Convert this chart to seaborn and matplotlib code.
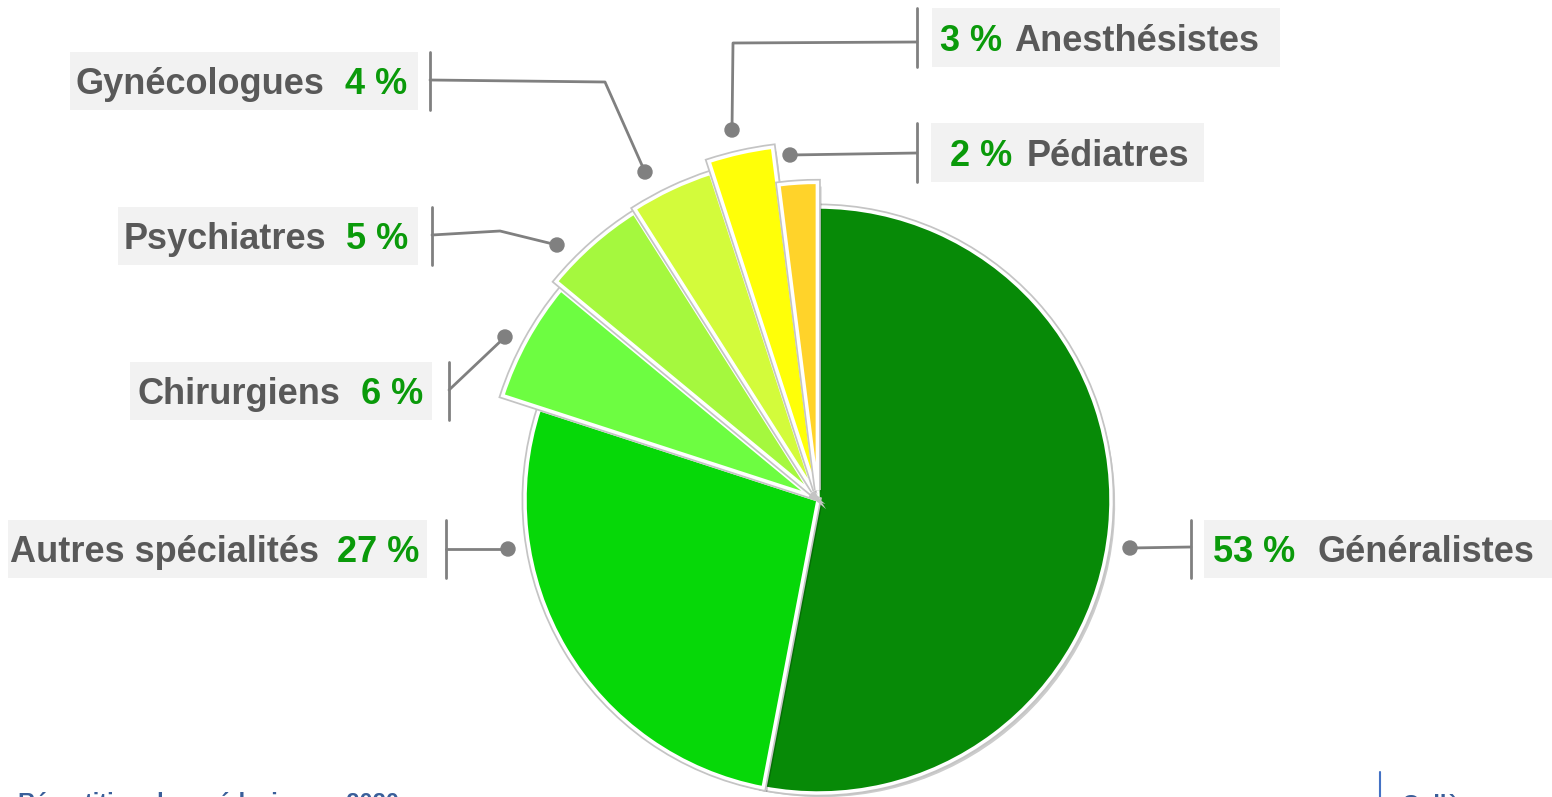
import matplotlib
matplotlib.use("Agg")
import matplotlib.pyplot as plt
import matplotlib.patheffects as pe
from matplotlib.patches import Rectangle, Circle
import seaborn as sns

# Données : répartition des médecins par spécialité (%)
categories = ["Généralistes", "Autres spécialités", "Chirurgiens", "Psychiatres",
              "Gynécologues", "Anesthésistes", "Pédiatres"]
pourcentages = [53, 27, 6, 5, 4, 3, 2]
etiquettes_pct = ["53 %", "27 %", "6 %", "5 %", "4 %", "3 %", "2 %"]
couleurs = ["#078A07", "#06D808", "#6DFD41", "#A5F83E", "#D3FB3B", "#FFFF08", "#FFD32A"]

# Style
sns.set_theme(style="white")
plt.rcParams['font.family'] = ['Liberation Sans Narrow', 'Liberation Sans', 'DejaVu Sans']

W, H = 1552, 797
fig = plt.figure(figsize=(W / 100, H / 100), dpi=100)
ax = fig.add_axes([0, 0, 1, 1])

GRIS_TXT = "#595959"
VERT_TXT = "#0A9A0A"
GRIS_LIGNE = "#808080"
FOND = "#F2F2F2"

# Camembert (coordonnées en pixels, y vers le haut)
centre = (818, H - 500)
R = 293
explode = [0, 0, 10, 10, 10, 10, 10]
rayons = [1, 1, 1.10, 1.13, 1.14, 1.18, 1.05]

wedges, _ = ax.pie(pourcentages, colors=couleurs, startangle=90, counterclock=False,
                   radius=R, center=centre, explode=explode,
                   wedgeprops=dict(edgecolor="white", linewidth=2.5))
for w, k in zip(wedges, rayons):
    w.set_radius(R * k)
    w.set_path_effects([pe.SimplePatchShadow(offset=(3, -3), shadow_rgbFace="black", alpha=0.2),
                        pe.Stroke(linewidth=5, foreground="#c4c4c4"), pe.Normal()])

ax.set_xlim(0, W)
ax.set_ylim(0, H)
ax.set_aspect("equal")
ax.axis("off")

# Mise en page des étiquettes (coordonnées image : y vers le bas)
# boîte (x0, y0, x1, y1), côté, x d'ancrage du texte, écart, barre x, tracé du connecteur
mise_en_page = {
    "Généralistes": ((1204, 520, 1552, 578), "d", 1213, 22, 1191,
                     [(1130, 548), (1191, 547)]),
    "Autres spécialités": ((8, 520, 427, 578), "g", 419, 18, 446,
                           [(508, 549), (446, 549)]),
    "Chirurgiens": ((130, 362, 432, 420), "g", 423, 20, 449,
                    [(505, 337), (449, 390)]),
    "Psychiatres": ((118, 207, 418, 265), "g", 408, 20, 432,
                    [(557, 245), (500, 231), (432, 235)]),
    "Gynécologues": ((70, 52, 418, 110), "g", 407, 20, 430,
                     [(645, 172), (605, 82), (430, 80)]),
    "Anesthésistes": ((932, 8, 1280, 67), "d", 940, 12, 917,
                      [(732, 130), (733, 43), (917, 42)]),
    "Pédiatres": ((931, 123, 1204, 182), "d", 950, 14, 917,
                  [(790, 155), (917, 153)]),
}

fig.canvas.draw()
renderer = fig.canvas.get_renderer()
taille = 26

for nom, pct in zip(categories, etiquettes_pct):
    (x0, y0, x1, y1), cote, xa, ecart, xb, trace = mise_en_page[nom]
    ax.add_patch(Rectangle((x0, H - y1), x1 - x0, y1 - y0, facecolor=FOND,
                           edgecolor="none", zorder=2))
    ax.plot([xb, xb], [H - y0, H - y1], color=GRIS_LIGNE, lw=2, zorder=3)
    xs = [p[0] for p in trace]
    ys = [H - p[1] for p in trace]
    ax.plot(xs, ys, color=GRIS_LIGNE, lw=2, zorder=3)
    ax.add_patch(Circle((xs[0], ys[0]), 7, color=GRIS_LIGNE, zorder=4))

    yb = H - ((y0 + y1) / 2 + 13)
    if cote == "g":
        t = ax.text(xa, yb, pct, ha="right", va="baseline", color=VERT_TXT,
                    fontsize=taille, fontweight="bold", zorder=5)
        larg = t.get_window_extent(renderer).width
        ax.text(xa - larg - ecart, yb, nom, ha="right", va="baseline", color=GRIS_TXT,
                fontsize=taille, fontweight="bold", zorder=5)
    else:
        t = ax.text(xa, yb, pct, ha="left", va="baseline", color=VERT_TXT,
                    fontsize=taille, fontweight="bold", zorder=5)
        larg = t.get_window_extent(renderer).width
        ax.text(xa + larg + ecart, yb, nom, ha="left", va="baseline", color=GRIS_TXT,
                fontsize=taille, fontweight="bold", zorder=5)

# Pied de page (coupé par le bord de l'image)
ax.text(18, H - 810, "Répartition des médecins en 2020", ha="left", va="baseline",
        color="#3A5F9A", fontsize=17, fontweight="bold", family=["Liberation Sans", "DejaVu Sans"])
ax.plot([1380, 1380], [H - 772, 0], color="#4472C4", lw=1.5)
ax.text(1402, H - 812, "Collège", ha="left", va="baseline",
        color="#3A5F9A", fontsize=17, fontweight="bold", family=["Liberation Sans", "DejaVu Sans"])

fig.savefig("out.png", dpi=100)
